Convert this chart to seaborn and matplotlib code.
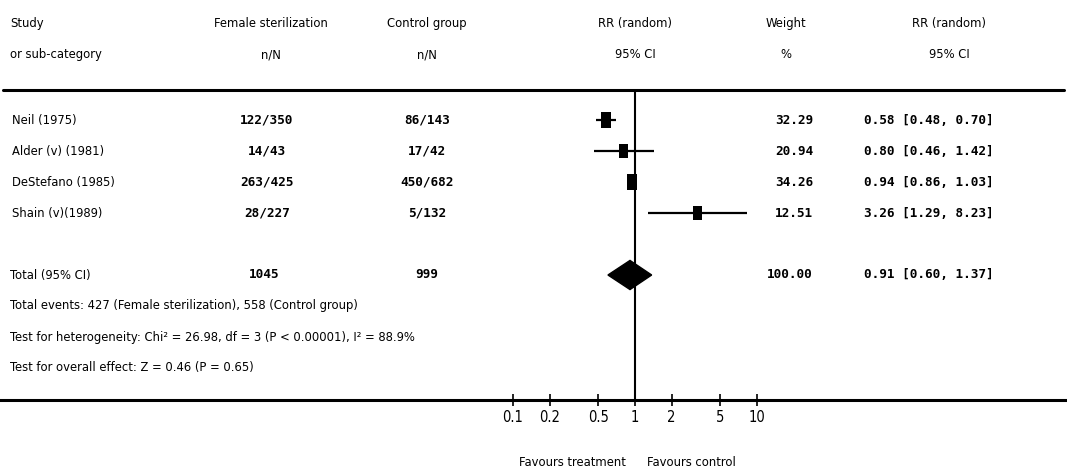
import numpy as np
import pandas as pd
import matplotlib
import matplotlib.pyplot as plt
import matplotlib.transforms as mtransforms
from matplotlib.ticker import NullLocator
import seaborn as sns

# Data
studies = ["Neil (1975)", "Alder (v) (1981)", "DeStefano (1985)", "Shain (v)(1989)"]
treat_events = [122, 14, 263, 28]
treat_total = [350, 43, 425, 227]
ctrl_events = [86, 17, 450, 5]
ctrl_total = [143, 42, 682, 132]
weights = [32.29, 20.94, 34.26, 12.51]
rr = [0.58, 0.80, 0.94, 3.26]
rr_lo = [0.48, 0.46, 0.86, 1.29]
rr_hi = [0.70, 1.42, 1.03, 8.23]

pooled = [0.91, 0.60, 1.37]
total_treat = 1045
total_ctrl = 999
total_weight = 100.00

tick_vals = [0.1, 0.2, 0.5, 1, 2, 5, 10]
tick_labels = ["0.1", "0.2", "0.5", "1", "2", "5", "10"]

footnotes = [
    "Total events: 427 (Female sterilization), 558 (Control group)",
    "Test for heterogeneity: Chi\u00b2 = 26.98, df = 3 (P < 0.00001), I\u00b2 = 88.9%",
    "Test for overall effect: Z = 0.46 (P = 0.65)",
]

sns.set_theme(style="white")
plt.rcParams["font.family"] = ["DejaVu Sans"]
plt.rcParams["font.stretch"] = "condensed"
plt.rcParams["text.color"] = "black"
MONO_FONT = ["DejaVu Sans Mono"]

W, H = 1067, 472
fig = plt.figure(figsize=(W / 100, H / 100), dpi=100)
ax = fig.add_axes([0, 0, 1, 1])

# pixel calibration: RR=1 at x=635, one decade = 122 px; rows 31 px apart, first study at y=120
X1, DEC = 635, 122
Y0, DY = 120, 31
ax.set_xscale("log")
ax.set_xlim(10 ** ((0 - X1) / DEC), 10 ** ((W - X1) / DEC))
ax.set_ylim((H - Y0) / DY, (0 - Y0) / DY)

def fx(px):
    return px / W

trans = mtransforms.blended_transform_factory(ax.transAxes, ax.transData)

rows = np.arange(len(studies))
total_row = len(studies) + 1
foot_rows = total_row + 1 + np.arange(len(footnotes))
axis_row = foot_rows[-1] + 1.03
top_rule = -0.97
head1, head2 = -3.1, -2.1

df = pd.DataFrame({"rr": rr, "row": rows, "weight": weights})

# CI lines and weighted boxes
ax.hlines(rows, rr_lo, rr_hi, color="black", lw=1.6, zorder=3)
box = [(-0.32, -0.5), (0.32, -0.5), (0.32, 0.5), (-0.32, 0.5), (-0.32, -0.5)]
sns.scatterplot(data=df, x="rr", y="row", size="weight", sizes=(100, 122),
                marker=box, color="black", edgecolor="black", linewidth=0,
                legend=False, ax=ax, zorder=4)

# pooled diamond
est, lo, hi = pooled
ax.fill([lo, est, hi, est], [total_row, total_row - 0.47, total_row, total_row + 0.47],
        color="black", zorder=4)

# line of no effect
ax.vlines(1, top_rule, axis_row, color="black", lw=1.5, zorder=2)

# rules
ax.axhline(top_rule, xmin=fx(3), xmax=fx(1064), color="black", lw=2.2)

# x axis
for s in ["left", "top", "right"]:
    ax.spines[s].set_visible(False)
ax.spines["bottom"].set_position(("data", axis_row))
ax.spines["bottom"].set_linewidth(2.2)
ax.spines["bottom"].set_color("black")
ax.set_xticks(tick_vals)
ax.set_xticklabels(tick_labels)
ax.xaxis.set_minor_locator(NullLocator())
ax.tick_params(axis="x", direction="inout", length=8, width=1.2, pad=3,
               labelsize=10.5, colors="black", labelcolor="black", bottom=True)
ax.set_yticks([])
ax.set_xlabel("")
ax.set_ylabel("")
ax.grid(False)

fs = 9.3
mono = 9.2
mw = "bold"

# headers
headers = [
    (10, "left", "Study", "or sub-category"),
    (271, "center", "Female sterilization", "n/N"),
    (427, "center", "Control group", "n/N"),
    (635, "center", "RR (random)", "95% CI"),
    (786, "center", "Weight", "%"),
    (949, "center", "RR (random)", "95% CI"),
]
for x, ha, t1, t2 in headers:
    ax.text(fx(x), head1, t1, transform=trans, ha=ha, va="center", fontsize=fs)
    ax.text(fx(x), head2, t2, transform=trans, ha=ha, va="center", fontsize=fs)

# study rows
for i, name in enumerate(studies):
    r = rows[i]
    ax.text(fx(12), r, name, transform=trans, ha="left", va="center", fontsize=fs)
    ax.text(fx(267), r, f"{treat_events[i]}/{treat_total[i]}", transform=trans,
            ha="center", va="center", fontsize=mono, family=MONO_FONT, weight=mw)
    ax.text(fx(427), r, f"{ctrl_events[i]}/{ctrl_total[i]}", transform=trans,
            ha="center", va="center", fontsize=mono, family=MONO_FONT, weight=mw)
    ax.text(fx(813), r, f"{weights[i]:.2f}", transform=trans,
            ha="right", va="center", fontsize=mono, family=MONO_FONT, weight=mw)
    ax.text(fx(864), r, f"{rr[i]:.2f} [{rr_lo[i]:.2f}, {rr_hi[i]:.2f}]", transform=trans,
            ha="left", va="center", fontsize=mono, family=MONO_FONT, weight=mw)

# total row
ax.text(fx(10), total_row, "Total (95% CI)", transform=trans, ha="left", va="center", fontsize=fs)
ax.text(fx(264), total_row, f"{total_treat}", transform=trans, ha="center", va="center",
        fontsize=mono, family=MONO_FONT, weight=mw)
ax.text(fx(427), total_row, f"{total_ctrl}", transform=trans, ha="center", va="center",
        fontsize=mono, family=MONO_FONT, weight=mw)
ax.text(fx(813), total_row, f"{total_weight:.2f}", transform=trans, ha="right", va="center",
        fontsize=mono, family=MONO_FONT, weight=mw)
ax.text(fx(864), total_row, f"{est:.2f} [{lo:.2f}, {hi:.2f}]", transform=trans,
        ha="left", va="center", fontsize=mono, family=MONO_FONT, weight=mw)

for r, line in zip(foot_rows, footnotes):
    ax.text(fx(10), r, line, transform=trans, ha="left", va="center", fontsize=fs)

# favours labels
fav_row = (462 - Y0) / DY
ax.text(fx(572), fav_row, "Favours treatment", transform=trans, ha="center", va="center", fontsize=fs)
ax.text(fx(691), fav_row, "Favours control", transform=trans, ha="center", va="center", fontsize=fs)

fig.savefig("out.png", dpi=100, facecolor="white")
